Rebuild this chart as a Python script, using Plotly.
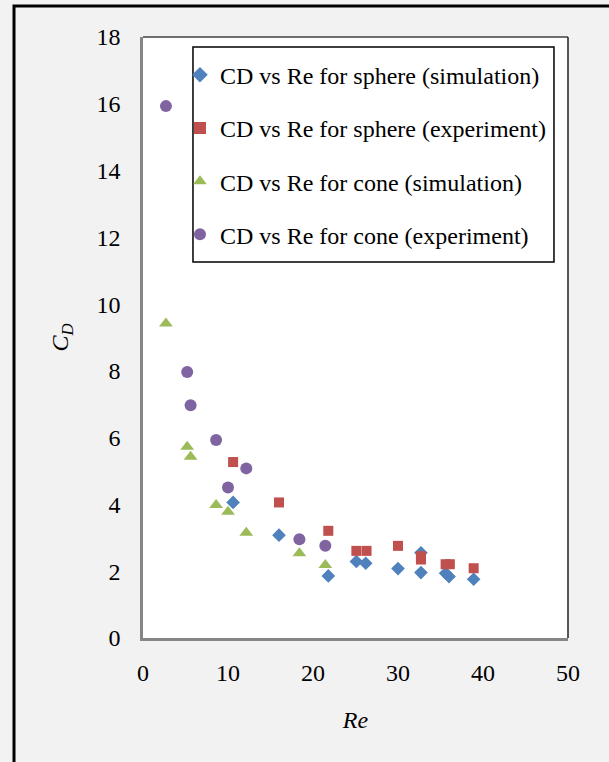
import plotly.graph_objects as go

# Drag coefficient vs Reynolds number
sphere_sim_re = [10.6, 16.0, 21.8, 25.1, 26.2, 30.0, 32.7, 32.7, 35.6, 36.0, 38.9]
sphere_sim_cd = [4.06, 3.08, 1.86, 2.29, 2.24, 2.08, 2.55, 1.96, 1.94, 1.84, 1.76]

sphere_exp_re = [10.6, 16.0, 21.8, 25.1, 26.3, 30.0, 32.7, 32.7, 35.6, 36.1, 38.9]
sphere_exp_cd = [5.27, 4.06, 3.21, 2.61, 2.61, 2.76, 2.45, 2.35, 2.21, 2.21, 2.09]

cone_sim_re = [2.7, 5.2, 5.6, 8.6, 10.0, 12.15, 18.4, 21.45]
cone_sim_cd = [9.42, 5.73, 5.43, 3.98, 3.78, 3.15, 2.54, 2.19]

cone_exp_re = [2.7, 5.2, 5.6, 8.6, 10.0, 12.15, 18.4, 21.45]
cone_exp_cd = [15.93, 7.97, 6.97, 5.93, 4.51, 5.08, 2.96, 2.76]

x_ticks = [0, 10, 20, 30, 40, 50]
y_ticks = [0, 2, 4, 6, 8, 10, 12, 14, 16, 18]

FONT = "Liberation Serif"

series = [
    ("CD vs Re for sphere (simulation)", sphere_sim_re, sphere_sim_cd, "diamond", "#4F81BD", 10.5),
    ("CD vs Re for sphere (experiment)", sphere_exp_re, sphere_exp_cd, "square", "#C0504D", 10),
    ("CD vs Re for cone (simulation)", cone_sim_re, cone_sim_cd, "triangle-up", "#9BBB59", 12),
    ("CD vs Re for cone (experiment)", cone_exp_re, cone_exp_cd, "circle", "#8064A2", 12),
]

fig = go.Figure()
for i, (name, xs, ys, sym, col, sz) in enumerate(series):
    fig.add_trace(go.Scatter(
        x=xs, y=ys, mode="markers", name=name, legendgroup=f"g{i}",
        marker=dict(symbol=sym, color=col, size=sz, line=dict(width=0)),
    ))

# outer frame and top/right border of the plotting area
fig.add_shape(type="rect", xref="paper", yref="paper",
              x0=-0.3035, x1=1.3, y0=-0.4, y1=1.0516,
              line=dict(color="black", width=3), layer="below")
fig.add_shape(type="line", xref="paper", yref="paper",
              x0=0, x1=1, y0=1, y1=1, line=dict(color="#404040", width=1.5))
fig.add_shape(type="line", xref="paper", yref="paper",
              x0=1, x1=1, y0=0, y1=1, line=dict(color="#202020", width=1.5))
# legend box
fig.add_shape(type="rect", xref="paper", yref="paper",
              x0=0.1176, x1=0.967, y0=0.6256, y1=0.9834,
              fillcolor="white", line=dict(color="black", width=1.5), layer="above")

fig.update_layout(
    width=609, height=762,
    margin=dict(l=143, r=41, t=37, b=124),
    paper_bgcolor="#F2F2F2", plot_bgcolor="white",
    font=dict(family=FONT, size=24, color="black"),
    showlegend=True,
    legend=dict(
        x=0.087, y=0.974, xanchor="left", yanchor="top",
        bgcolor="rgba(0,0,0,0)", borderwidth=0,
        font=dict(family=FONT, size=24, color="black"),
        tracegroupgap=19, itemsizing="constant",
        itemwidth=30,
    ),
    xaxis=dict(
        range=[0, 50], tickvals=x_ticks, ticktext=[str(v) for v in x_ticks],
        showgrid=False, zeroline=False, showline=True,
        linecolor="#868686", linewidth=2.5, ticks="", ticklabelstandoff=11,
        tickfont=dict(family=FONT, size=24),
        title=dict(text="<i>Re</i>", font=dict(family=FONT, size=24), standoff=27),
    ),
    yaxis=dict(
        range=[0, 18], tickvals=y_ticks, ticktext=[str(v) for v in y_ticks],
        showgrid=False, zeroline=False, showline=True,
        linecolor="#868686", linewidth=2.5, ticks="", ticklabelstandoff=15,
        tickfont=dict(family=FONT, size=24),
        title=dict(text="<i>C<sub>D</sub></i>", font=dict(family=FONT, size=24), standoff=22),
    ),
)

fig.write_html("out.html")
